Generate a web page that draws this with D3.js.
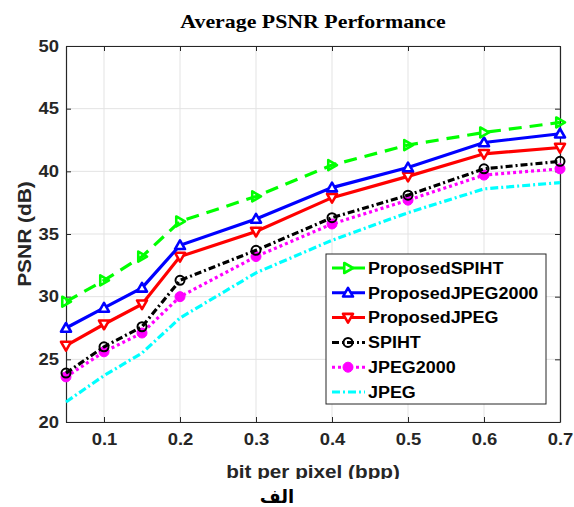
<!DOCTYPE html>
<html><head><meta charset="utf-8">
<script src="https://cdn.jsdelivr.net/npm/d3@7"></script>
<style>body{margin:0;background:#fff}svg{display:block}</style>
</head><body>
<script>
const bpp = [0.05, 0.1, 0.15, 0.2, 0.3, 0.4, 0.5, 0.6, 0.7];
const proposedSPIHT    = [29.6, 31.3, 33.2, 36.0, 38.0, 40.5, 42.1, 43.1, 43.9];
const proposedJPEG2000 = [27.5, 29.1, 30.7, 34.1, 36.2, 38.7, 40.3, 42.3, 43.0];
const proposedJPEG     = [26.1, 27.8, 29.4, 33.2, 35.2, 37.9, 39.6, 41.4, 41.9];
const spiht            = [23.9, 26.0, 27.6, 31.3, 33.7, 36.3, 38.1, 40.2, 40.8];
const jpeg2000         = [23.6, 25.6, 27.1, 30.0, 33.2, 35.8, 37.7, 39.7, 40.2];
const jpeg             = [21.6, 23.7, 25.5, 28.3, 31.9, 34.5, 36.7, 38.6, 39.1];
const seriesNames = ["ProposedSPIHT","ProposedJPEG2000","ProposedJPEG","SPIHT","JPEG2000","JPEG"];
const xTicks = [0.1, 0.2, 0.3, 0.4, 0.5, 0.6, 0.7];
const yTicks = [20, 25, 30, 35, 40, 45, 50];

const W = 574, H = 507;
const L = 66, R = 560, T = 46, B = 422;
const svg = d3.select("body").append("svg").attr("width", W).attr("height", H);
const x = d3.scaleLinear().domain([0.05, 0.7]).range([L, R]);
const y = d3.scaleLinear().domain([20, 50]).range([B, T]);
const axisCol = "#262626";
const font = "'Liberation Sans', Arial, sans-serif";

function stretch(sel, f) {
  sel.each(function() {
    const w = this.getComputedTextLength();
    d3.select(this).attr("textLength", w * f).attr("lengthAdjust", "spacingAndGlyphs");
  });
}

// grid
const g = svg.append("g");
g.selectAll(".gx").data(xTicks).join("line")
  .attr("x1", d => x(d)).attr("x2", d => x(d)).attr("y1", T).attr("y2", B)
  .attr("stroke", "#e3e3e3").attr("stroke-width", 1);
g.selectAll(".gy").data(yTicks).join("line")
  .attr("x1", L).attr("x2", R).attr("y1", d => y(d)).attr("y2", d => y(d))
  .attr("stroke", "#e3e3e3").attr("stroke-width", 1);

// axes
const xAxis = d3.axisBottom(x).tickValues(xTicks).tickSizeInner(-5).tickSizeOuter(0).tickPadding(12).tickFormat(d3.format(".1f"));
const yAxis = d3.axisLeft(y).tickValues(yTicks).tickSizeInner(-5).tickSizeOuter(0).tickPadding(7).tickFormat(d3.format("d"));
const xa = svg.append("g").attr("transform", `translate(0,${B})`).call(xAxis);
const ya = svg.append("g").attr("transform", `translate(${L},0)`).call(yAxis);
const xt = svg.append("g").attr("transform", `translate(0,${T})`).call(d3.axisTop(x).tickValues(xTicks).tickSizeInner(-5).tickSizeOuter(0).tickFormat(""));
const yr = svg.append("g").attr("transform", `translate(${R},0)`).call(d3.axisRight(y).tickValues(yTicks).tickSizeInner(-5).tickSizeOuter(0).tickFormat(""));
[xa, ya, xt, yr].forEach(a => {
  a.select(".domain").attr("stroke", axisCol).attr("stroke-width", 1.2);
  a.selectAll(".tick line").attr("stroke", axisCol).attr("stroke-width", 1);
  a.selectAll(".tick text").attr("fill", axisCol).attr("font-family", font)
    .attr("font-weight", "bold").attr("font-size", 16);
});
xa.selectAll(".tick text").attr("dy", "0.71em").call(stretch, 1.15);
ya.selectAll(".tick text").call(stretch, 1.15);

// series
const series = [
  {name: seriesNames[0], vals: proposedSPIHT,    color: "#00ff00", dash: "13,8",      marker: "triR"},
  {name: seriesNames[1], vals: proposedJPEG2000, color: "#0000ff", dash: null,        marker: "triU"},
  {name: seriesNames[2], vals: proposedJPEG,     color: "#ff0000", dash: null,        marker: "triD"},
  {name: seriesNames[3], vals: spiht,            color: "#000000", dash: "7,3,2,3",   marker: "circ"},
  {name: seriesNames[4], vals: jpeg2000,         color: "#ff00ff", dash: "3,3",       marker: "dot"},
  {name: seriesNames[5], vals: jpeg,             color: "#00ffff", dash: "8,3,2,3",   marker: null}
];

const line = d3.line().x(d => x(d[0])).y(d => y(d[1]));
const s = 5;
function markerPath(type) {
  if (type === "triR") return `M${-s*0.75},${-s} L${s},0 L${-s*0.75},${s} Z`;
  if (type === "triU") return `M0,${-s} L${s},${s*0.75} L${-s},${s*0.75} Z`;
  if (type === "triD") return `M0,${s} L${s},${-s*0.75} L${-s},${-s*0.75} Z`;
  return null;
}
function drawMarker(sel, sr) {
  if (!sr.marker) return;
  if (sr.marker === "circ") {
    sel.append("circle").attr("r", 4.5).attr("fill", "none").attr("stroke", sr.color).attr("stroke-width", 2);
  } else if (sr.marker === "dot") {
    sel.append("circle").attr("r", 5).attr("fill", sr.color).attr("stroke", sr.color).attr("stroke-width", 1);
  } else {
    sel.append("path").attr("d", markerPath(sr.marker)).attr("fill", sr.marker === "triR" ? "none" : "#ffffff")
      .attr("stroke", sr.color).attr("stroke-width", 2.6).attr("stroke-linejoin", "round");
  }
}

const plot = svg.append("g");
series.slice().reverse().forEach(sr => {
  const pts = bpp.map((b, i) => [b, sr.vals[i]]);
  plot.append("path").datum(pts).attr("d", line).attr("fill", "none")
    .attr("stroke", sr.color).attr("stroke-width", 3.2)
    .attr("stroke-dasharray", sr.dash);
  pts.forEach(p => {
    const m = plot.append("g").attr("transform", `translate(${x(p[0])},${y(p[1])})`);
    drawMarker(m, sr);
  });
});

// legend
const lg = svg.append("g");
lg.append("rect").attr("x", 326).attr("y", 254).attr("width", 220).attr("height", 150)
  .attr("fill", "#fff").attr("stroke", axisCol).attr("stroke-width", 1);
series.forEach((sr, i) => {
  const cy = 268 + i * 24.8;
  lg.append("line").attr("x1", 332).attr("x2", 365).attr("y1", cy).attr("y2", cy)
    .attr("stroke", sr.color).attr("stroke-width", 3).attr("stroke-dasharray", sr.dash);
  const m = lg.append("g").attr("transform", `translate(348,${cy})`);
  drawMarker(m, sr);
  lg.append("text").attr("x", 368).attr("y", cy).attr("dy", "0.36em")
    .attr("font-family", font).attr("font-weight", "bold").attr("font-size", 16)
    .attr("fill", "#000").text(sr.name).call(stretch, 1.12);
});

// title
svg.append("text").attr("x", 313).attr("y", 28).attr("text-anchor", "middle")
  .attr("font-family", "'Liberation Serif', 'Times New Roman', serif").attr("font-weight", "bold")
  .attr("font-size", 19).attr("fill", "#000").text("Average PSNR Performance").call(stretch, 1.15);

// y label
svg.append("text").attr("transform", `translate(31,${(T + B) / 2}) rotate(-90)`)
  .attr("text-anchor", "middle").attr("font-family", font).attr("font-weight", "bold")
  .attr("font-size", 19).attr("fill", axisCol).text("PSNR (dB)").call(stretch, 1.1);

// x label (clipped at bottom as in the reference)
svg.append("clipPath").attr("id", "xlclip").append("rect").attr("x", 0).attr("y", 440).attr("width", W).attr("height", 39);
svg.append("text").attr("x", 313).attr("y", 478).attr("text-anchor", "middle")
  .attr("clip-path", "url(#xlclip)")
  .attr("font-family", font).attr("font-weight", "bold").attr("font-size", 18)
  .attr("fill", axisCol).text("bit per pixel (bpp)").call(stretch, 1.15);

// caption
svg.append("text").attr("x", 277).attr("y", 503).attr("text-anchor", "middle")
  .attr("font-family", "'DejaVu Sans', sans-serif").attr("font-weight", "bold")
  .attr("font-size", 18).attr("fill", "#000").text("الف");
</script>
</body></html>
